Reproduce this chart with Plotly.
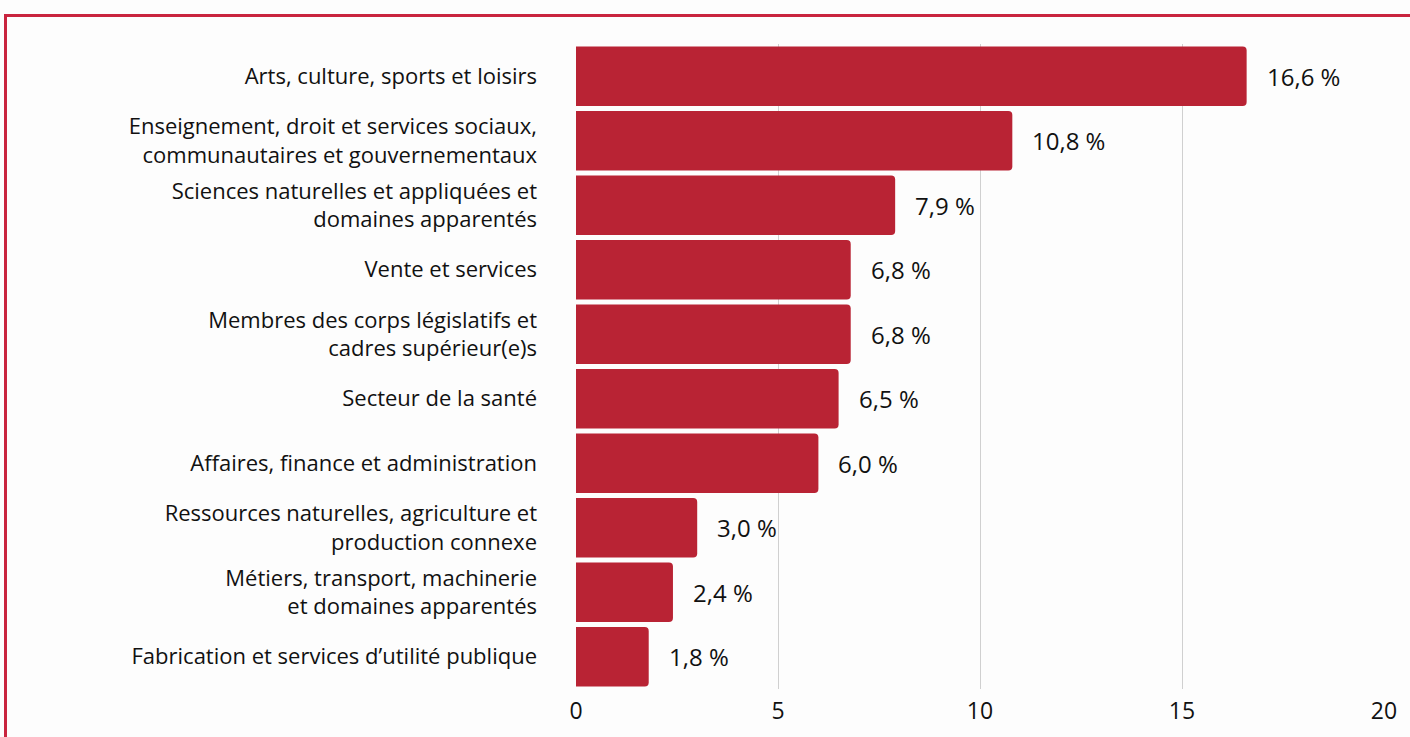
import plotly.graph_objects as go

categories = [
    "Arts, culture, sports et loisirs",
    "Enseignement, droit et services sociaux,<br>communautaires et gouvernementaux",
    "Sciences naturelles et appliquées et<br>domaines apparentés",
    "Vente et services",
    "Membres des corps législatifs et<br>cadres supérieur(e)s",
    "Secteur de la santé",
    "Affaires, finance et administration",
    "Ressources naturelles, agriculture et<br>production connexe",
    "Métiers, transport, machinerie<br>et domaines apparentés",
    "Fabrication et services d’utilité publique",
]
values = [16.6, 10.8, 7.9, 6.8, 6.8, 6.5, 6.0, 3.0, 2.4, 1.8]
value_labels = ["16,6 %", "10,8 %", "7,9 %", "6,8 %", "6,8 %", "6,5 %", "6,0 %", "3,0 %", "2,4 %", "1,8 %"]
x_ticks = [0, 5, 10, 15, 20]

W, H = 1410, 737
L, R, T, B = 576, 26, 44, 48
pw, ph = W - L - R, H - T - B

FONT = "Open Sans, Noto Sans, sans-serif"

fig = go.Figure(go.Bar(
    x=values, y=categories, orientation="h",
    marker=dict(color="#b92334", cornerradius=4, line=dict(width=0)),
    hoverinfo="skip",
))

for v, c, t in zip(values, categories, value_labels):
    fig.add_annotation(x=v, y=c, text=t, showarrow=False, xanchor="left",
                       xshift=18, font=dict(size=24, color="#111111", family=FONT))

def px_to_paper_x(px):
    return (px - L) / pw

def px_to_paper_y(py):
    return 1 + (T - py) / ph

# page border (red)
fig.add_shape(type="rect", xref="paper", yref="paper",
              x0=px_to_paper_x(5.5), x1=px_to_paper_x(W + 10),
              y0=px_to_paper_y(H + 10), y1=px_to_paper_y(15.5),
              line=dict(color="#c9243f", width=3), fillcolor="rgba(0,0,0,0)", layer="below")

fig.update_layout(
    width=W, height=H,
    margin=dict(l=L, r=R, t=T, b=B, pad=0),
    paper_bgcolor="#fdfdfd", plot_bgcolor="#fdfdfd",
    bargap=0.08,
    showlegend=False,
    font=dict(family=FONT, size=22, color="#111111"),
    xaxis=dict(range=[0, 20], tickvals=x_ticks, ticktext=[str(t) for t in x_ticks],
               showgrid=True, gridcolor="#d0d0d0", gridwidth=1, zeroline=False,
               showline=False, ticks="", ticklabelstandoff=6,
               tickfont=dict(size=23, family=FONT), fixedrange=True),
    yaxis=dict(autorange="reversed", showgrid=False, ticks="", showline=False,
               ticklabelstandoff=38, tickfont=dict(size=22, family=FONT)),
)

fig.write_html("out.html", config={"displayModeBar": False},
               post_script="document.body.style.margin='0';document.body.style.background='#fdfdfd';")
